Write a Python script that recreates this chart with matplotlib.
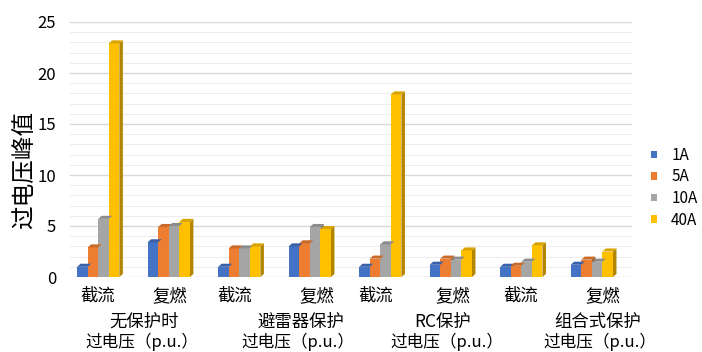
import numpy as np
import matplotlib.pyplot as plt
from matplotlib.patches import Polygon
from matplotlib.colors import to_rgb

plt.rcParams['font.family'] = ['Noto Sans CJK SC', 'DejaVu Sans']

# Categories along the x axis
categories = ["截流", "复燃", "截流", "复燃", "截流", "复燃", "截流", "复燃"]
protections = ["无保护时", "避雷器保护", "RC保护", "组合式保护"]
series_names = ["1A", "5A", "10A", "40A"]
colors = ["#4472C4", "#ED7D31", "#A5A5A5", "#FFC000"]

# Peak overvoltage values for each current
v_1a = [1.0, 3.4, 1.0, 3.0, 1.0, 1.2, 1.0, 1.2]
v_5a = [2.9, 4.9, 2.8, 3.3, 1.8, 1.8, 1.1, 1.7]
v_10a = [5.7, 5.0, 2.8, 4.9, 3.2, 1.7, 1.5, 1.5]
v_40a = [22.9, 5.4, 3.0, 4.7, 17.9, 2.6, 3.1, 2.5]
values = [v_1a, v_5a, v_10a, v_40a]

fig = plt.figure(figsize=(7.02, 3.52), dpi=100)
ax = fig.add_axes([70 / 702, 1 - 277 / 352, 562 / 702, 255 / 352])

x = np.arange(len(categories))
width = 0.15
dx, dy = 0.05, 0.3


def darker(c, f):
    r, g, b = to_rgb(c)
    return (r * f, g * f, b * f)


for i, (name, vals, col) in enumerate(zip(series_names, values, colors)):
    pos = x + (i - 1.5) * width
    bars = ax.bar(pos, vals, width, color=col, label=name, zorder=3, linewidth=0)
    # fake 3D: side and top faces
    for b in bars:
        x0, w, h = b.get_x(), b.get_width(), b.get_height()
        side = Polygon([(x0 + w, 0), (x0 + w + dx, dy), (x0 + w + dx, h + dy), (x0 + w, h)],
                       closed=True, facecolor=darker(col, 0.7), edgecolor='none', zorder=2)
        top = Polygon([(x0, h), (x0 + dx, h + dy), (x0 + w + dx, h + dy), (x0 + w, h)],
                      closed=True, facecolor=darker(col, 0.85), edgecolor='none', zorder=4)
        ax.add_patch(side)
        ax.add_patch(top)

ax.set_xlim(-0.4, 7.57)
ax.set_ylim(0, 25)
ax.set_yticks([0, 5, 10, 15, 20, 25])
ax.set_yticks(np.arange(0, 26, 1), minor=True)
ax.grid(axis='y', which='major', color='#D9D9D9', linewidth=1.0, zorder=0)
ax.grid(axis='y', which='minor', color='#EDEDED', linewidth=0.8, zorder=0)
ax.tick_params(axis='y', which='both', length=0, pad=10, labelsize=12)
ax.tick_params(axis='x', length=0, pad=7, labelsize=12.5)

# labels sit a little off the group centres
label_shift = [-0.01, 0.01, -0.07, 0.1, -0.06, 0.03, -0.01, 0.16]
ax.set_xticks(x + np.array(label_shift))
ax.set_xticklabels(categories)
for s in ax.spines.values():
    s.set_visible(False)

ax.set_ylabel("过电压峰值", fontsize=17)
ax.yaxis.set_label_coords(-0.058, 0.42)

# group captions under the category labels
trans = ax.get_xaxis_transform()
name_x = [0.65, 2.88, 4.89, 7.08]
unit_x = [0.62, 2.83, 4.95, 7.12]
for nx, ux, p in zip(name_x, unit_x, protections):
    ax.text(nx, -0.176, p, transform=trans, ha='center', va='center', fontsize=12.5)
    ax.text(ux, -0.255, "过电压（p.u.）", transform=trans, ha='center', va='center', fontsize=12)

ax.legend(loc='center left', bbox_to_anchor=(1.01, 0.35), frameon=False, fontsize=11,
          handlelength=0.4, handleheight=0.4, handletextpad=0.9, labelspacing=0.3)

fig.savefig("out.png", dpi=100)
